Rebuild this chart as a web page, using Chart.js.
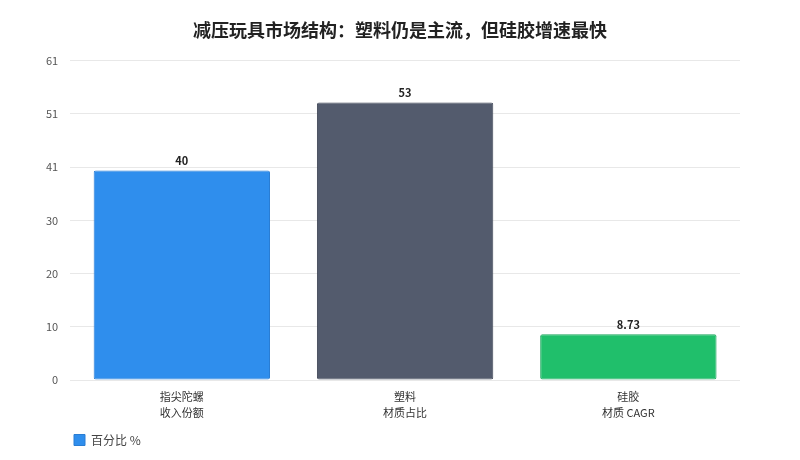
<!DOCTYPE html>
<html lang="zh">
<head>
    <meta charset="UTF-8">
    <title>减压玩具市场结构</title>
    <script src="https://cdn.jsdelivr.net/npm/chart.js@4.4.0/dist/chart.umd.min.js"></script>
    <style>
        html, body {
            margin: 0;
            padding: 0;
            background: #ffffff;
        }
        .wrap {
            width: 800px;
            height: 460px;
            position: relative;
        }
    </style>
</head>
<body>
    <div class="wrap">
        <canvas id="chart"></canvas>
    </div>

    <script>
        // 数据
        const categories = [['指尖陀螺', '收入份额'], ['塑料', '材质占比'], ['硅胶', '材质 CAGR']];
        const values = [40, 53, 8.73];
        const valueLabels = ['40', '53', '8.73'];
        const seriesName = '百分比 %';
        const yMax = 61;
        const tickLabels = ['0', '10', '20', '30', '41', '51', '61'];

        const barColors = ['#2f8eed', '#535b6d', '#20bf6b'];
        const borderColors = ['#2a7dd3', '#3e4455', '#1ba55c'];

        const FONT = '"Noto Sans CJK SC", "Noto Sans", sans-serif';

        // 柱顶数值标签
        const valueLabelPlugin = {
            id: 'valueLabels',
            afterDatasetsDraw(chart) {
                const ctx = chart.ctx;
                const meta = chart.getDatasetMeta(0);
                ctx.save();
                ctx.font = 'bold 11px ' + FONT;
                ctx.fillStyle = '#222';
                ctx.textAlign = 'center';
                ctx.textBaseline = 'bottom';
                meta.data.forEach((bar, i) => {
                    ctx.fillText(valueLabels[i], bar.x, bar.y - 4);
                });
                ctx.restore();
            }
        };

        // 图例往右下挪一点，和绘图区左边对齐；标题居中到整张画布
        const boxShift = {
            id: 'boxShift',
            afterLayout(chart) {
                const lg = chart.legend;
                lg.left += 30;
                lg.right += 30;
                lg.top += 2;
                lg.bottom += 2;
                const t = chart.titleBlock;
                t.left += 13;
                t.right += 13;
            }
        };

        new Chart(document.getElementById('chart'), {
            type: 'bar',
            data: {
                labels: categories,
                datasets: [{
                    label: seriesName,
                    data: values,
                    backgroundColor: barColors,
                    borderColor: borderColors,
                    borderWidth: 1,
                    borderRadius: 2,
                    borderSkipped: false,
                    barPercentage: 0.79,
                    categoryPercentage: 1.0
                }]
            },
            options: {
                responsive: true,
                maintainAspectRatio: false,
                animation: false,
                layout: {
                    padding: { left: 34, right: 60, top: 8, bottom: 6 }
                },
                plugins: {
                    title: {
                        display: true,
                        text: '减压玩具市场结构：塑料仍是主流，但硅胶增速最快',
                        color: '#222',
                        font: { family: FONT, size: 18, weight: 'bold' },
                        padding: { top: 11, bottom: 20 }
                    },
                    legend: {
                        position: 'bottom',
                        align: 'start',
                        labels: {
                            color: '#444',
                            font: { family: FONT, size: 12 },
                            boxWidth: 11,
                            boxHeight: 11,
                            generateLabels: () => [{
                                text: seriesName,
                                fillStyle: barColors[0],
                                strokeStyle: borderColors[0],
                                lineWidth: 1,
                                fontColor: '#444'
                            }]
                        }
                    },
                    tooltip: { enabled: false }
                },
                scales: {
                    x: {
                        grid: { display: false },
                        border: { display: false },
                        ticks: {
                            color: '#333',
                            padding: 1,
                            font: { family: FONT, size: 11, lineHeight: 1.45 }
                        }
                    },
                    y: {
                        min: 0,
                        max: yMax,
                        border: { display: false },
                        grid: { color: '#e8e8e8', drawTicks: false },
                        afterBuildTicks: axis => {
                            axis.ticks = tickLabels.map((_, i) => ({ value: i * yMax / (tickLabels.length - 1) }));
                        },
                        ticks: {
                            color: '#555',
                            padding: 12,
                            font: { family: FONT, size: 11 },
                            callback: (v, i) => tickLabels[i]
                        }
                    }
                }
            },
            plugins: [valueLabelPlugin, boxShift]
        });
    </script>
</body>
</html>
